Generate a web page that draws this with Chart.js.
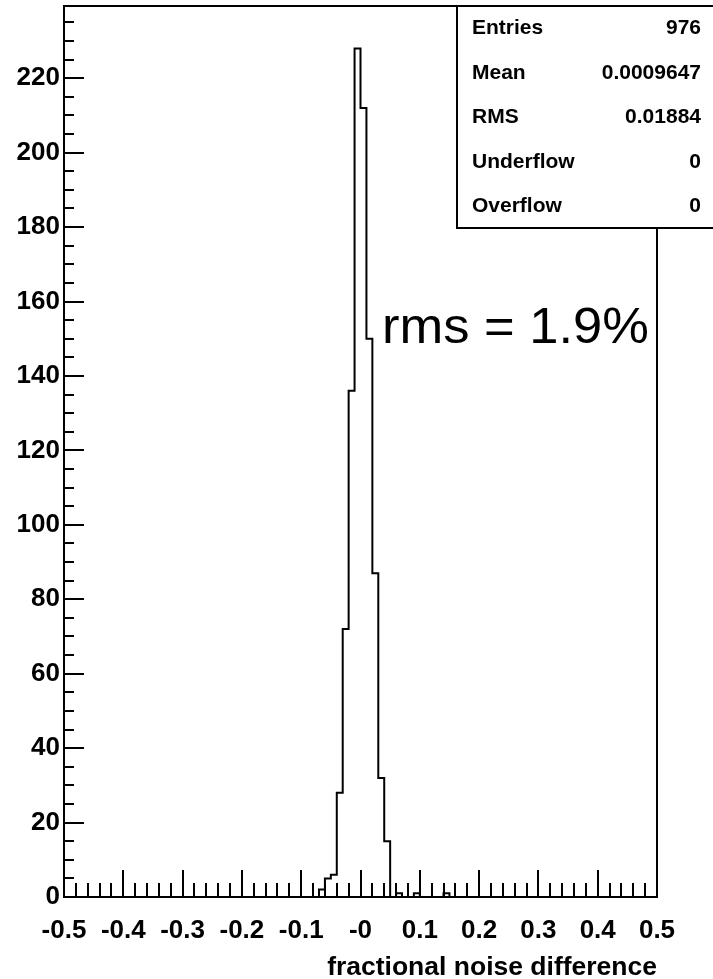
<!DOCTYPE html>
<html>
<head>
<meta charset="utf-8">
<title>fractional noise difference</title>
<script src="https://cdn.jsdelivr.net/npm/chart.js@4.4.0/dist/chart.umd.min.js"></script>
<style>
  html, body { margin: 0; padding: 0; background: #fff; }
  #wrap { width: 713px; height: 979px; }
</style>
</head>
<body>
<div id="wrap"><canvas id="hist" width="713" height="979"></canvas></div>
<script>
// noise histogram, bins 0.01 wide; only the filled region is listed
const binEdges = [-0.07, -0.06, -0.05, -0.04, -0.03, -0.02, -0.01, 0.00, 0.01, 0.02, 0.03,
                  0.04, 0.05, 0.06, 0.07, 0.08, 0.09, 0.10, 0.11, 0.12, 0.13, 0.14, 0.15];
const counts = [2, 5, 6, 28, 72, 136, 228, 212, 150, 87, 32,
                15, 0, 1, 0, 0, 1, 0, 0, 0, 0, 1];
const xRange = [-0.5, 0.5];
const yMax = 239.4;
const xTickLabels = ['-0.5', '-0.4', '-0.3', '-0.2', '-0.1', '-0', '0.1', '0.2', '0.3', '0.4', '0.5'];
const yTicks = [0, 20, 40, 60, 80, 100, 120, 140, 160, 180, 200, 220];
const statNames = ['Entries', 'Mean', 'RMS', 'Underflow', 'Overflow'];
const statValues = ['976', '0.0009647', '0.01884', '0', '0'];
const note = 'rms = 1.9%';

const FAMILY = "'Liberation Sans', Arial, Helvetica, sans-serif";

// step points: each left edge carries its bin content, close back to 0
const points = [{ x: xRange[0], y: 0 }];
binEdges.slice(0, -1).forEach((e, i) => points.push({ x: e, y: counts[i] }));
points.push({ x: binEdges[binEdges.length - 1], y: 0 });
points.push({ x: xRange[1], y: 0 });

// frame, inward ticks, stat box and the note
const rootFrame = {
  id: 'rootFrame',
  afterDatasetsDraw(chart) {
    const { ctx, chartArea: a, scales: { x, y } } = chart;
    ctx.save();
    ctx.strokeStyle = '#000';
    ctx.lineWidth = 2;
    ctx.strokeRect(a.left, a.top, a.right - a.left, a.bottom - a.top);

    ctx.beginPath();
    for (let v = 0; v <= y.max; v += 5) {
      const py = Math.round(y.getPixelForValue(v));
      const len = v % 20 === 0 ? 20 : 10;
      ctx.moveTo(a.left, py);
      ctx.lineTo(a.left + len, py);
    }
    for (let k = 0; k <= 50; k++) {
      const px = Math.round(x.getPixelForValue(xRange[0] + k * 0.02));
      const len = k % 5 === 0 ? 27 : 14;
      ctx.moveTo(px, a.bottom);
      ctx.lineTo(px, a.bottom - len);
    }
    ctx.stroke();

    // statistics box in the top right corner
    ctx.fillStyle = '#fff';
    ctx.fillRect(457, a.top, 270, 222);
    ctx.strokeRect(457, a.top, 270, 222);
    ctx.fillStyle = '#000';
    ctx.font = 'bold 21px ' + FAMILY;
    ctx.textBaseline = 'alphabetic';
    statNames.forEach((name, i) => {
      const by = 34 + i * 44.6;
      ctx.textAlign = 'left';
      ctx.fillText(name, 472, by);
      ctx.textAlign = 'right';
      ctx.fillText(statValues[i], 701, by);
    });

    // annotation, slightly widened
    ctx.font = '50px ' + FAMILY;
    ctx.textAlign = 'left';
    ctx.translate(382, 343);
    ctx.scale(1.05, 1);
    ctx.fillText(note, 0, 0);
    ctx.restore();
  }
};

new Chart(document.getElementById('hist').getContext('2d'), {
  type: 'line',
  data: {
    datasets: [{
      data: points,
      stepped: 'before',
      borderColor: '#000',
      borderWidth: 2,
      pointRadius: 0,
      fill: false
    }]
  },
  options: {
    responsive: false,
    devicePixelRatio: 1,
    animation: false,
    layout: { padding: { top: 6, right: 56, left: 0, bottom: 0 } },
    plugins: { legend: { display: false }, tooltip: { enabled: false } },
    scales: {
      x: {
        type: 'linear',
        min: xRange[0],
        max: xRange[1],
        grid: { display: false, drawTicks: false },
        border: { display: false },
        afterBuildTicks: s => { s.ticks = xTickLabels.map(t => ({ value: parseFloat(t) })); },
        afterFit: s => { s.height = 82; s.paddingLeft = 0; s.paddingRight = 0; },
        ticks: {
          autoSkip: false,
          maxRotation: 0,
          padding: 18,
          color: '#000',
          font: { family: FAMILY, size: 26, weight: 'bold' },
          callback: (v, i) => xTickLabels[i]
        },
        title: {
          display: true,
          text: 'fractional noise difference',
          align: 'end',
          color: '#000',
          padding: { top: 0, bottom: -2 },
          font: { family: FAMILY, size: 26.5, weight: 'bold', lineHeight: 1 }
        }
      },
      y: {
        min: 0,
        max: yMax,
        grid: { display: false, drawTicks: false },
        border: { display: false },
        afterBuildTicks: s => { s.ticks = yTicks.map(v => ({ value: v })); },
        afterFit: s => { s.width = 64; s.paddingTop = 0; s.paddingBottom = 0; },
        ticks: {
          padding: 4,
          color: '#000',
          font: { family: FAMILY, size: 26, weight: 'bold' }
        }
      }
    }
  },
  plugins: [rootFrame]
});
</script>
</body>
</html>
